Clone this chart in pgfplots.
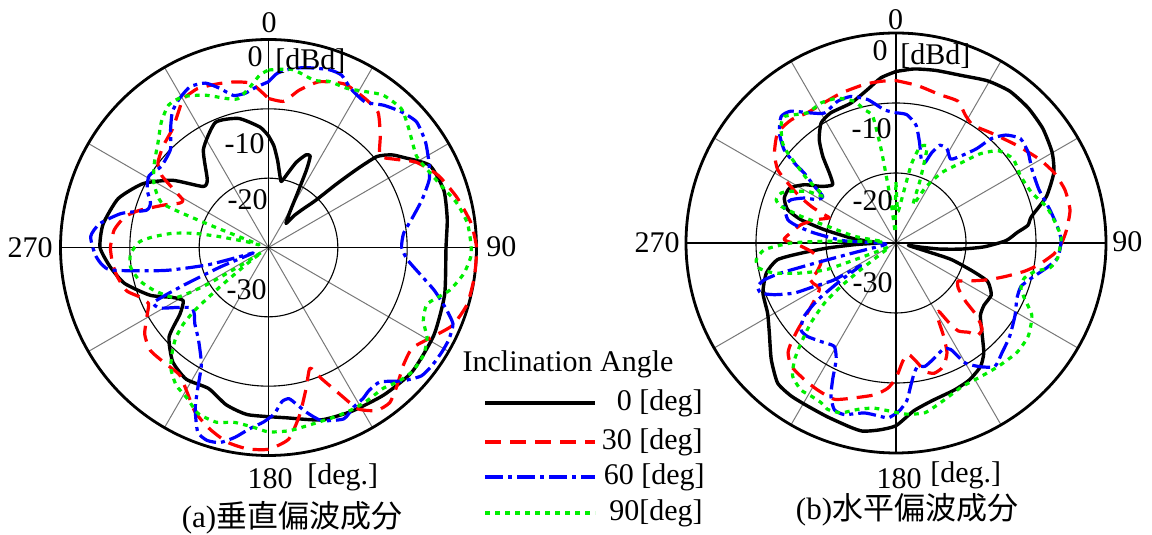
\documentclass[border=0pt]{standalone}
\usepackage{pgfplots}
\pgfplotsset{compat=1.18}
\usepackage{pgfplotstable}
\usepackage{fontspec}
\setmainfont{Liberation Serif}
\newfontfamily\cjk{Noto Sans CJK JP}
\definecolor{pgreen}{RGB}{0,238,0}
\definecolor{spoke}{RGB}{120,120,120}

% (a) vertical polarisation: angle [deg], level [dBd]
\pgfplotstableread{
phi db
0 -13.9
3 -15.3
6 -17.4
9 -19.5
11 -20.3
14 -19.2
18 -17.1
22 -15.6
24.5 -15.5
26 -17.4
28 -21.0
31 -24.0
36 -25.7
39 -24.0
42 -22.5
45 -20.4
47 -16.5
48.5 -12.9
50 -9.6
53 -7.8
56 -6.7
63 -3.9
72 -3.4
81 -3.9
90 -4.4
105 -3.7
118 -3.0
131 -2.6
142 -3.0
153 -3.5
163 -4.0
174 -5.3
187 -5.7
195 -6.5
203 -7.9
212 -7.6
220 -8.5
228 -10.7
233 -14.0
238 -15.5
242.5 -14.4
248 -11.6
256 -8.6
263 -7.0
270 -5.7
278 -5.9
288 -7.2
297 -9.7
305 -13.1
313 -17.1
318 -16.8
326.5 -13.0
337 -10.4
347 -10.9
356 -12.6
360 -13.9
}\VaA
\pgfplotstableread{
phi db
0 -8.5
6 -8.8
11 -6.9
17 -5.0
25 -4.0
33 -4.4
39 -4.9
45 -7.2
50.6 -9.2
55 -7.8
60 -5.4
67 -3.4
75 -1.9
83 -0.6
90 0.0
98 0.0
106 -0.2
113 -1.2
119 -3.2
125 -4.7
131 -4.2
137 -2.8
142 -1.6
146.5 -1.8
151 -3.4
154 -6.4
158 -9.6
161 -11.6
165 -9.0
169.5 -5.4
174 -2.2
180 -0.9
186 -0.8
192 -1.3
198 -2.5
204 -4.0
209.5 -6.1
215 -7.6
222 -7.6
229 -7.4
235 -8.2
241 -10.0
245 -10.9
249 -10.1
253 -8.6
259 -7.8
264 -7.4
270 -7.2
276.5 -7.6
282 -8.8
286 -10.6
292.5 -13.9
296.6 -15.7
299 -15.9
301 -14.4
304 -11.4
307.5 -9.9
314 -8.9
321 -8.0
327.4 -6.2
330 -5.3
336 -4.9
343 -5.3
348 -5.6
354 -6.2
360 -8.5
}\VaB
\pgfplotstableread{
phi db
0 -6.1
3 -4.8
8 -3.9
13 -3.4
19 -2.9
23 -3.0
27.4 -4.2
33.6 -4.8
39 -3.6
44.5 -2.6
49.7 -2.0
56 -2.7
62 -3.8
67 -4.8
72.7 -6.8
78 -8.7
84 -10.4
90 -10.8
95 -9.9
100 -7.8
104.5 -5.3
108.7 -3.1
112.5 -1.2
117 -0.8
121 -0.8
125.5 -0.9
130 -1.2
134.8 -2.7
140.3 -4.8
144.8 -4.8
148 -4.3
152 -3.9
156.3 -3.0
163 -3.9
167 -5.6
170 -7.1
172.3 -8.0
175 -7.7
178 -6.0
181.7 -4.8
186 -3.7
190 -2.2
194 -1.0
197.7 -0.8
201 -1.5
204.5 -4.5
206.7 -7.3
209.6 -10.4
214 -12.3
218 -13.5
224 -14.7
228 -15.6
232 -15.9
237 -14.1
241 -12.0
244.5 -11.7
246 -16.5
248 -22.5
250 -27.6
252 -26.4
254 -21.0
257.5 -14.7
262 -6.9
267 -5.1
273.5 -4.3
278 -5.4
283 -8.2
287 -11.6
290.7 -11.8
295.5 -10.6
301 -9.9
307 -10.6
315 -10.0
320.5 -7.8
324.7 -6.0
329 -5.0
334 -4.2
339 -4.6
343 -6.0
347 -7.5
351.4 -7.5
355.6 -6.8
360 -6.1
}\VaC
\pgfplotstableread{
phi db
0 -4.4
7.7 -4.1
15.3 -5.0
20 -4.5
26.3 -4.4
32 -3.5
37 -2.5
43.8 -2.3
49.8 -3.5
58.2 -4.9
63.8 -4.5
70.5 -3.5
76.7 -2.1
83 -1.1
89 -0.8
92.7 -0.8
97.7 -1.6
103.4 -3.2
109.6 -5.7
115.3 -5.3
119.6 -3.7
124.6 -2.8
130.7 -2.6
136 -3.1
140.8 -3.8
148 -3.7
154.5 -3.7
160.5 -3.8
167.7 -3.7
173.6 -3.4
180 -3.4
185 -4.0
191 -4.3
196.7 -3.7
203 -4.0
208.4 -5.3
213.9 -6.1
219 -7.6
222.8 -9.6
225.7 -11.3
228 -13.4
229.6 -16.2
231 -21.0
233 -26.4
235 -28.8
237 -25.5
239 -19.5
241.6 -14.8
249.4 -12.4
255.6 -10.8
262 -9.9
267.5 -10.1
272.6 -11.4
275.4 -13.4
278.4 -16.0
280.8 -19.1
282.5 -22.8
285 -27.0
287 -28.5
291 -21.0
292.5 -13.5
299.5 -11.0
306.6 -9.5
313.6 -8.0
319.5 -6.2
325 -4.9
330.5 -5.0
337.4 -6.2
344.4 -7.7
348.4 -8.1
352.9 -6.9
357.1 -5.1
360 -4.4
}\VaD

% (b) horizontal polarisation
\pgfplotstableread{
phi db
0 -5.5
6 -5.0
13 -4.7
21.4 -4.3
29.4 -3.4
36.8 -2.9
44.4 -3.0
52 -3.4
59.8 -4.2
65.9 -5.3
72.8 -7.5
79 -10.3
82.4 -11.0
85 -12.6
88.8 -14.3
92.5 -17.4
95.3 -20.6
97.9 -23.7
99.5 -26.4
101 -28.2
105 -25.7
106.6 -21.8
110.2 -18.3
112.8 -15.8
118.6 -14.5
125.3 -14.6
130.7 -14.1
136.1 -12.3
141.4 -9.9
145.7 -8.6
151.9 -7.8
158.4 -7.4
167 -6.9
173.9 -5.9
180 -3.9
185 -3.2
190 -2.7
194 -2.9
201.5 -3.3
208.4 -3.5
214.4 -3.5
220.2 -3.8
226.9 -5.6
234.6 -7.8
241.4 -9.1
249.5 -9.7
257 -11.0
262 -12.9
263.9 -16.4
265.8 -20.2
267.7 -24.1
270.5 -27.6
273.5 -26.0
276.4 -23.5
280.5 -19.6
283.8 -16.0
287.1 -13.8
291.9 -12.8
297.3 -12.9
302.5 -14.5
307.1 -16.6
312.6 -17.7
316.4 -16.2
319.8 -13.8
323.4 -11.6
328 -9.8
333.4 -9.2
342.2 -9.0
349.5 -7.7
354.8 -6.3
360 -5.5
}\VbA
\pgfplotstableread{
phi db
0 -6.8
7.8 -7.3
16.4 -7.9
23.6 -7.9
28.4 -9.2
33.1 -9.9
41 -9.2
51.1 -7.8
59.6 -6.3
65.9 -5.3
72.5 -4.7
79.3 -4.7
85.8 -5.6
90.4 -6.4
94 -7.4
98.5 -9.3
102.4 -11.2
106.9 -13.6
111.9 -15.9
118.9 -18.7
121.7 -19.6
126 -19.0
130 -17.0
132 -14.5
135 -12.6
139 -12.4
140.7 -13.5
144.7 -14.6
146.5 -16.5
148 -18.5
151 -17.6
152.9 -15.1
155.1 -12.7
159 -11.1
163.7 -10.6
167.3 -11.2
169.8 -12.6
173.6 -14.0
176.7 -13.1
180 -10.7
183.3 -9.2
188 -8.1
195 -7.1
201.5 -6.0
208.1 -6.2
213.9 -6.5
220.4 -6.9
224.5 -8.0
226.4 -9.3
228.6 -11.3
231.7 -13.9
238.7 -17.2
244.4 -16.8
248 -16.7
249.4 -17.8
255 -18.9
259 -18.8
264.4 -17.8
269 -16.0
271.7 -14.0
276 -15.0
281 -16.2
286 -18.0
290.6 -19.8
291.8 -18.5
293.4 -16.8
295.8 -14.7
299 -12.3
301.8 -10.1
306.5 -8.4
312.9 -6.9
319.6 -6.9
325.8 -7.5
331.6 -7.5
339.9 -7.2
348.7 -6.9
354.7 -6.8
360 -6.8
}\VbB
\pgfplotstableread{
phi db
0 -11.4
4.8 -11.6
9.6 -12.9
13.1 -15.2
16.8 -17.5
19.8 -17.8
21.5 -16.2
24.1 -14.7
28.4 -14.7
33.1 -15.7
36.9 -14.4
40.5 -12.3
42.4 -9.8
45.5 -8.0
50 -6.8
55.5 -7.1
61.4 -7.9
69.5 -8.2
77.9 -7.5
84.4 -6.8
89.2 -6.4
95.2 -6.8
99.4 -8.2
104.5 -10.0
109.2 -11.1
114.6 -11.0
121.3 -10.1
129.3 -9.0
136 -8.2
141.3 -7.4
145.7 -8.6
150 -10.2
152.8 -12.9
155.9 -13.4
162.7 -12.5
166.8 -11.9
170 -12.1
172.1 -11.2
174.3 -9.3
176.1 -7.4
178.9 -6.0
182.5 -5.0
186.2 -5.2
190.6 -5.3
196.8 -4.4
200.3 -4.6
203 -6.2
204.9 -8.5
207.2 -11.3
210.9 -12.8
217.3 -12.3
223.5 -11.6
227.6 -11.6
231.4 -13.2
234 -16.2
236 -20.6
237.5 -24.0
239.2 -19.7
242 -16.8
243.8 -13.8
247 -11.1
249.7 -9.4
252.6 -9.3
254.4 -10.5
255.4 -13.0
256 -18.0
257 -24.0
260 -28.2
265 -28.5
270 -27.6
272.5 -22.5
277 -18.2
279.6 -15.8
282.1 -14.2
288.2 -13.2
292.4 -13.8
296.1 -15.4
298.9 -17.2
302.5 -17.6
304.8 -15.8
307.3 -13.5
308.2 -11.5
309.8 -9.2
313.3 -7.1
317.7 -5.6
321.4 -5.9
326.8 -7.8
331.2 -8.8
337.6 -8.1
343 -8.1
348.8 -9.1
355 -10.9
360 -11.4
}\VbC
\pgfplotstableread{
phi db
0 -21.3
3 -25.5
7 -24.0
11 -18.6
14 -15.9
18 -15.6
21 -20.4
24 -24.0
28 -21.0
33 -18.0
39.2 -15.2
43.3 -12.5
48 -10.3
54.4 -9.4
61.8 -9.8
69.8 -9.3
76.4 -7.9
81.7 -7.2
88 -6.4
95.2 -6.8
99.1 -7.7
101.5 -9.7
105.3 -11.0
110 -11.0
113.4 -10.0
118.1 -8.0
125.1 -6.9
132.2 -6.7
140.3 -7.1
147.8 -7.4
155.5 -7.4
163.2 -6.5
170.3 -5.4
176.4 -5.5
180 -5.8
187.5 -6.2
193 -5.6
197.9 -4.5
202.3 -4.3
205.1 -4.8
209 -5.0
212.9 -5.0
217.8 -5.9
221 -7.9
223.5 -10.3
226.8 -13.3
230 -16.7
231.8 -20.0
233 -24.0
236 -28.5
240 -28.8
245 -27.6
247 -25.5
249 -19.5
252.4 -15.8
256.1 -12.1
259.6 -10.1
263.2 -9.9
267.1 -11.2
270 -15.0
271.4 -19.8
273 -25.5
275.5 -28.2
279.2 -24.0
283.7 -20.0
285.7 -15.9
287.7 -12.8
289.8 -11.8
293.5 -12.1
296.2 -13.3
300.3 -15.4
303 -17.7
305.6 -14.5
307.9 -12.2
309.7 -9.9
311.4 -8.4
315.4 -6.6
318.6 -5.9
325.8 -7.5
331.8 -7.3
338 -7.7
343.6 -8.9
346.6 -10.4
349.6 -11.6
351 -16.5
353 -24.0
356 -28.5
358.5 -25.5
360 -21.3
}\VbD

\tikzset{
  c0/.style={black, line width=1.7pt},
  c30/.style={red, line width=1.6pt, dash pattern=on 8pt off 4.5pt},
  c60/.style={blue, line width=1.6pt, dash pattern=on 9pt off 2.5pt on 2pt off 2.5pt},
  c90/.style={pgreen, line width=1.6pt, dash pattern=on 2.4pt off 2.6pt},
  lab/.style={font=\fontsize{15}{17}\selectfont, inner sep=0pt},
}
\pgfplotsset{
  pol/.style={hide axis, scale only axis, anchor=center, clip=false,
    xmin=-1, xmax=1, ymin=-1, ymax=1, width=2*#1, height=2*#1},
  pat/.style={smooth, tension=0.35, line join=round},
}
\newcommand{\polgrid}[1]{%
  \pgfplotsinvokeforeach{30,60,120,150,210,240,300,330}{%
    \draw[spoke, line width=0.5pt] (axis cs:0,0) -- (axis cs:{sin(##1)},{cos(##1)});}
  \draw[black, line width=0.55pt] (axis cs:-1,0) -- (axis cs:1,0);
  \draw[black, line width=0.55pt] (axis cs:0,-1) -- (axis cs:0,1);
  \draw[black, line width=0.55pt] (axis cs:0,0) circle[radius=#1/3];
  \draw[black, line width=0.55pt] (axis cs:0,0) circle[radius=2*#1/3];
  \draw[black, line width=1.4pt] (axis cs:0,0) circle[radius=#1];
}
\newcommand{\curve}[2]{\addplot[#1, pat] table[x expr={(\thisrow{db}+30)/30*sin(\thisrow{phi})}, y expr={(\thisrow{db}+30)/30*cos(\thisrow{phi})}] {#2};}

\begin{document}
\begin{tikzpicture}
\path[use as bounding box] (0,0) rectangle (576pt,267.5pt);

% ---------- (a) ----------
\begin{axis}[pol=104pt, at={(134.25pt,143.75pt)}]
\polgrid{104pt}
\curve{c0}{\VaA}
\curve{c30}{\VaB}
\curve{c60}{\VaC}
\curve{c90}{\VaD}
\end{axis}
\node[lab, anchor=south] at (134.5pt,251pt) {0};
\node[lab, anchor=east] at (26.5pt,143.5pt) {270};
\node[lab, anchor=west] at (243pt,144pt) {90};
\node[lab] at (135pt,28pt) {180};
\node[lab, anchor=west] at (153.5pt,29pt) {[deg.]};
\node[lab, anchor=east] at (131.5pt,239pt) {0};
\node[lab, anchor=west] at (137.5pt,237pt) {[dBd]};
\node[lab, anchor=east] at (132.5pt,195.75pt) {-10};
\node[lab, anchor=east] at (134pt,167.5pt) {-20};
\node[lab, anchor=east] at (133.5pt,122.5pt) {-30};
\node[inner sep=0pt, font=\fontsize{15.5}{18}\selectfont] at (146pt,8.5pt) {(a){\cjk 垂直偏波成分}};

% ---------- (b) ----------
\begin{axis}[pol=105pt, at={(448pt,146pt)}]
\polgrid{105pt}
\curve{c0}{\VbA}
\curve{c30}{\VbB}
\curve{c60}{\VbC}
\curve{c90}{\VbD}
\end{axis}
\node[lab, anchor=south] at (447.75pt,252.5pt) {0};
\node[lab, anchor=east] at (340pt,146pt) {270};
\node[lab, anchor=west] at (556pt,146.5pt) {90};
\node[lab] at (449.5pt,28pt) {180};
\node[lab, anchor=west] at (465pt,30pt) {[deg.]};
\node[lab, anchor=east] at (444pt,242pt) {0};
\node[lab, anchor=west] at (450pt,239.5pt) {[dBd]};
\node[lab, anchor=east] at (446pt,203pt) {-10};
\node[lab, anchor=east] at (446.5pt,167pt) {-20};
\node[lab, anchor=east] at (446.5pt,126pt) {-30};
\node[inner sep=0pt, font=\fontsize{15.5}{18}\selectfont] at (453.5pt,12.5pt) {(b){\cjk 水平偏波成分}};

% ---------- legend ----------
\node[lab] at (284pt,85.5pt) {Inclination Angle};
\draw[c0] (242.5pt,66pt) -- (297.5pt,66pt);
\draw[c30] (242.5pt,46.5pt) -- (297.5pt,46.5pt);
\draw[c60] (242.5pt,29pt) -- (297.5pt,29pt);
\draw[c90] (242.5pt,11pt) -- (297.5pt,11pt);
\node[lab, anchor=east] at (351.5pt,66pt) {0 [deg]};
\node[lab, anchor=east] at (351.5pt,46.5pt) {30 [deg]};
\node[lab, anchor=east] at (352.5pt,29pt) {60 [deg]};
\node[lab, anchor=east] at (351.5pt,11pt) {90[deg]};
\end{tikzpicture}
\end{document}
